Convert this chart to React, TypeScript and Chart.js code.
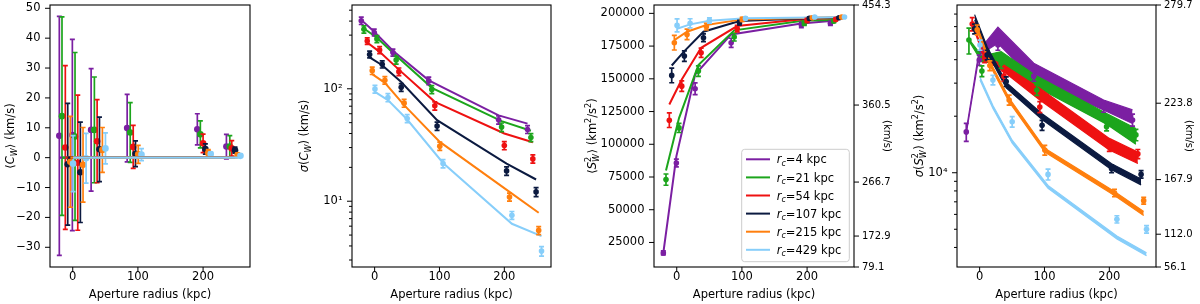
import React, { useEffect, useRef } from 'react';
import { Chart, registerables } from 'chart.js';

Chart.register(...registerables);

const FONT_FAMILY = "'DejaVu Sans', 'Liberation Sans', sans-serif";
const TICK_FONT_SIZE = 11.5;
const RIGHT_TICK_FONT_SIZE = 10;
const TITLE_FONT_SIZE = 11.5;
const RIGHT_TITLE_FONT_SIZE = 10;
const LEGEND_FONT_SIZE = 11.5;

const PAGE_W = 1200;
const PAGE_H = 304;
const PLOT_TOP = 5;
const PLOT_BOTTOM = 267;
const X_MIN = -34.9;
const X_MAX = 272;
const xTickValues = [0, 100, 200];
const xAxisTitle = 'Aperture radius (kpc)';

const coreRadii = ['4', '21', '54', '107', '215', '429'];
const seriesColors = ['#7b1fa2', '#1ca51c', '#ee1111', '#0b1a40', '#ff7f0e', '#87cefa'];

// aperture radius positions (each series slightly offset)
const xPurple = [-20.6, -0.6, 28.2, 83.5, 191.2, 235.8];
const xGreen = [-16.5, 3.5, 33.2, 88.2, 195.8, 241.0];
const xRed = [-11.4, 7.7, 37.4, 92.8, 200.0, 244.0];
const xNavy = [-7.7, 11.7, 41.0, 96.3, 203.5, 249.0];
const xOrange = [-3.7, 15.8, 45.5, 100.5, 208.0, 253.0];
const xLightBlue = [0.5, 20.5, 50.2, 105.5, 211.7, 257.4];
const xPositions = [xPurple, xGreen, xRed, xNavy, xOrange, xLightBlue];

// Panel 1: <C_W> (km/s)
const meanCwTicks = [-30, -20, -10, 0, 10, 20, 30, 40, 50];
const meanCwPoints = [
  [7.3, 7.6, 9.3, 9.9, 9.5, 3.7],
  [13.9, 7.1, 9.3, 8.4, 7.8, 3.7],
  [3.4, -1.7, 5.5, 3.6, 4.8, 3.1],
  [-2.2, -4.9, 2.8, 1.3, 2.9, 2.5],
  [-1.4, -2.4, 2.6, 1.1, 1.6, 0.9],
  [-2.0, -0.2, 3.1, 1.0, 1.2, 0.6],
];
const meanCwErrors = [
  [40.0, 32.0, 20.5, 11.3, 5.2, 4.1],
  [33.2, 28.1, 17.7, 10.0, 4.5, 3.7],
  [27.4, 22.6, 13.9, 7.2, 3.1, 2.6],
  [20.4, 16.8, 10.8, 4.3, 1.7, 1.0],
  [15.2, 12.5, 7.5, 3.0, 1.1, 0.6],
  [9.4, 8.3, 5.2, 2.0, 0.7, 0.4],
];
const meanCwModel = [0, 0, 0, 0, 0, 0];

// Panel 2: sigma(C_W) (km/s)
const sigmaCwTicks = [3, 4, 5, 6, 7, 8, 9, 10, 20, 30, 40, 50, 60, 70, 80, 90, 100, 200, 300, 400, 500];
const sigmaCwPoints = [
  [403, 317, 210, 118, 53, 43.5],
  [338, 277, 180, 98.7, 45.6, 36.9],
  [266, 221, 142, 70.6, 31.3, 23.8],
  [202, 165, 103, 46.6, 18.6, 12.1],
  [145, 119, 74.5, 30.9, 10.9, 5.5],
  [99.3, 83.7, 54.4, 21.6, 7.5, 3.6],
];
const sigmaCwErrors = [
  [30, 22, 15, 9, 4.5, 3.5],
  [25, 20, 14, 8, 4, 3],
  [18, 16, 11, 6, 2.6, 2],
  [14, 12, 8, 4, 1.6, 1.1],
  [11, 9, 6, 2.6, 0.9, 0.45],
  [8, 7, 4.5, 1.8, 0.6, 0.35],
];
const sigmaCwModel = [
  [410, 321, 218, 119, 58, 49],
  [344, 284, 197, 102, 51.5, 42.3],
  [258, 213, 148, 76.6, 40, 33.5],
  [190, 162, 115, 52.6, 21.6, 15.6],
  [135, 113, 71.6, 33.7, 12.1, 7.9],
  [94, 79.3, 53.3, 21.9, 6.3, 4.9],
];

// Panel 3: <S^2_W> (km^2/s^2)
const meanS2Ticks = [25000, 50000, 75000, 100000, 125000, 150000, 175000, 200000];
const meanS2RightLabels = ['79.1', '172.9', '266.7', '360.5', '454.3'];
const meanS2Points = [
  [17000, 85700, 142400, 177500, 191100, 192400],
  [73000, 112500, 155900, 181900, 192400, 194100],
  [118400, 144400, 169900, 188300, 194600, 195400],
  [152600, 167400, 181400, 192900, 196200, 196700],
  [177600, 183900, 189800, 195400, 196700, 197200],
  [190800, 192400, 194600, 196200, 197200, 197200],
];
const meanS2Errors = [
  [1500, 3000, 4500, 3500, 2000, 1500],
  [4300, 3500, 4000, 3000, 1500, 1200],
  [5600, 4000, 3500, 2500, 1500, 1000],
  [5600, 4000, 3000, 1800, 1000, 700],
  [5600, 4000, 2500, 1500, 800, 500],
  [5000, 3500, 2000, 1000, 500, 300],
];
const meanS2Model = [
  [17000, 90800, 153300, 183900, 192300, 194100],
  [80000, 120000, 160500, 187000, 194600, 194900],
  [130400, 149500, 173700, 190300, 195900, 196200],
  [160200, 171200, 186000, 194100, 196200, 196700],
  [179600, 186000, 191100, 195400, 196700, 197200],
  [188300, 191600, 194400, 196200, 196900, 197200],
];

// Panel 4: sigma(S^2_W) (km^2/s^2)
const sigmaS2Ticks = [4000, 5000, 6000, 7000, 8000, 9000, 10000, 20000, 30000, 40000, 50000, 60000, 70000];
const sigmaS2RightLabels = ['56.1', '112.0', '167.9', '223.8', '279.7'];
const sigmaS2Points = [
  [16500, 39800, 47900, 32700, 22500, 19100],
  [50900, 34800, 38300, 27600, 17600, 15900],
  [62000, 41000, 32700, 22400, 13700, 12600],
  [58400, 42400, 30600, 17900, 10500, 9800],
  [57700, 37200, 24400, 13200, 7800, 7100],
  [47900, 31200, 18700, 9800, 5650, 5000],
];
const sigmaS2Errors = [
  [1800, 2500, 3000, 2000, 1500, 1400],
  [8000, 2300, 2300, 1800, 900, 1100],
  [5000, 2400, 2000, 1500, 700, 700],
  [3500, 2500, 1800, 1100, 500, 450],
  [3500, 2200, 1500, 800, 350, 300],
  [3000, 1800, 1200, 650, 250, 230],
];
const sigmaS2ModelUpper = [
  [16800, 45100, 59600, 38300, 24400, 21600],
  [51500, 41800, 44200, 32700, 20700, 17200],
  [65000, 41400, 37500, 28200, 15240, 12900],
  [69500, 46700, 30300, 20600, 11150, 9270],
  [60400, 39200, 25000, 13500, 7950, 6220],
  [32400, 22800, 14900, 8560, 4600, 3750],
];
const sigmaS2ModelLower = [
  [16200, 42400, 48900, 31200, 21600, 18300],
  [50300, 38900, 38300, 28500, 18150, 14200],
  [62000, 39900, 34500, 24400, 13200, 11200],
  [65000, 43500, 28300, 19200, 10380, 8620],
  [57400, 37400, 23800, 12900, 7570, 5920],
  [31200, 22000, 14360, 8260, 4440, 3610],
];

type Seg = { t?: string; it?: boolean; sub?: boolean; sup?: boolean; stack?: [string, string] };

function segFont(size: number, it?: boolean) {
  return `${it ? 'italic ' : ''}${size}px ${FONT_FAMILY}`;
}

function measureRich(ctx: CanvasRenderingContext2D, segs: Seg[], size: number) {
  let w = 0;
  for (const s of segs) {
    if (s.stack) {
      ctx.font = segFont(size * 0.7, false);
      const a = ctx.measureText(s.stack[0]).width;
      ctx.font = segFont(size * 0.7, true);
      const b = ctx.measureText(s.stack[1]).width;
      w += Math.max(a, b) + size * 0.05;
    } else {
      ctx.font = segFont(s.sub || s.sup ? size * 0.7 : size, s.it);
      w += ctx.measureText(s.t || '').width;
    }
  }
  return w;
}

function drawRich(
  ctx: CanvasRenderingContext2D,
  segs: Seg[],
  cx: number,
  cy: number,
  size: number,
  rot: number,
  align: 'center' | 'left',
) {
  ctx.save();
  ctx.translate(cx, cy);
  if (rot) ctx.rotate(rot);
  const w = measureRich(ctx, segs, size);
  let x = align === 'center' ? -w / 2 : 0;
  const base = size * 0.36;
  ctx.fillStyle = '#000';
  ctx.textAlign = 'left';
  ctx.textBaseline = 'alphabetic';
  for (const s of segs) {
    if (s.stack) {
      ctx.font = segFont(size * 0.7, false);
      const a = ctx.measureText(s.stack[0]).width;
      ctx.fillText(s.stack[0], x, base - size * 0.42);
      ctx.font = segFont(size * 0.7, true);
      const b = ctx.measureText(s.stack[1]).width;
      ctx.fillText(s.stack[1], x, base + size * 0.25);
      x += Math.max(a, b) + size * 0.05;
    } else {
      const small = s.sub || s.sup;
      ctx.font = segFont(small ? size * 0.7 : size, s.it);
      const dy = s.sub ? size * 0.22 : s.sup ? -size * 0.42 : 0;
      ctx.fillText(s.t || '', x, base + dy);
      x += ctx.measureText(s.t || '').width;
    }
  }
  ctx.restore();
}

const ERR_CAP = 2.5;

const decorPlugin: any = {
  id: 'decor',
  beforeDatasetDraw(chart: any, args: any) {
    const ds: any = chart.data.datasets[args.index];
    if (!ds.errs) return;
    const ctx = chart.ctx as CanvasRenderingContext2D;
    const xs = chart.scales.x;
    const ys = chart.scales.y;
    const a = chart.chartArea;
    ctx.save();
    ctx.beginPath();
    ctx.rect(a.left, a.top, a.right - a.left, a.bottom - a.top);
    ctx.clip();
    ctx.strokeStyle = ds.backgroundColor;
    ctx.lineWidth = 1.7;
    ds.data.forEach((p: any, i: number) => {
      const e = ds.errs[i];
      const px = xs.getPixelForValue(p.x);
      const y1 = ys.getPixelForValue(p.y - e);
      const y2 = ys.getPixelForValue(p.y + e);
      ctx.beginPath();
      ctx.moveTo(px, y1);
      ctx.lineTo(px, y2);
      ctx.moveTo(px - ERR_CAP, y1);
      ctx.lineTo(px + ERR_CAP, y1);
      ctx.moveTo(px - ERR_CAP, y2);
      ctx.lineTo(px + ERR_CAP, y2);
      ctx.stroke();
    });
    ctx.restore();
  },
  afterDraw(chart: any, _args: any, opts: any) {
    const ctx = chart.ctx as CanvasRenderingContext2D;
    const a = chart.chartArea;
    ctx.save();
    ctx.strokeStyle = '#000';
    ctx.lineWidth = 1.1;
    ctx.strokeRect(a.left, a.top, a.right - a.left, a.bottom - a.top);
    // tick marks
    ctx.lineWidth = 1;
    for (const id of Object.keys(chart.scales)) {
      const s = chart.scales[id];
      for (const t of s.ticks) {
        const major = t.label !== '' && t.label != null;
        const len = major ? 5 : 3;
        const p = s.getPixelForValue(t.value);
        ctx.beginPath();
        if (s.isHorizontal()) {
          ctx.moveTo(p, a.bottom);
          ctx.lineTo(p, a.bottom + len);
        } else if (s.position === 'left') {
          ctx.moveTo(a.left - len, p);
          ctx.lineTo(a.left, p);
        } else {
          ctx.moveTo(a.right, p);
          ctx.lineTo(a.right + len, p);
        }
        ctx.stroke();
      }
    }
    ctx.restore();
    // axis titles
    drawRich(ctx, [{ t: xAxisTitle }], (a.left + a.right) / 2, 294, TITLE_FONT_SIZE, 0, 'center');
    const midY = (a.top + a.bottom) / 2;
    drawRich(ctx, opts.yTitle, opts.yTitleX, midY, TITLE_FONT_SIZE, -Math.PI / 2, 'center');
    if (opts.rightTitle) {
      drawRich(ctx, opts.rightTitle, opts.rightTitleX, midY, RIGHT_TITLE_FONT_SIZE, Math.PI / 2, 'center');
    }
    // legend
    if (opts.legend) {
      const L = opts.legend;
      ctx.save();
      const [x1, y1, x2, y2] = L.box;
      const r = 3;
      ctx.beginPath();
      ctx.moveTo(x1 + r, y1);
      ctx.lineTo(x2 - r, y1);
      ctx.quadraticCurveTo(x2, y1, x2, y1 + r);
      ctx.lineTo(x2, y2 - r);
      ctx.quadraticCurveTo(x2, y2, x2 - r, y2);
      ctx.lineTo(x1 + r, y2);
      ctx.quadraticCurveTo(x1, y2, x1, y2 - r);
      ctx.lineTo(x1, y1 + r);
      ctx.quadraticCurveTo(x1, y1, x1 + r, y1);
      ctx.closePath();
      ctx.fillStyle = 'rgba(255,255,255,0.8)';
      ctx.fill();
      ctx.strokeStyle = '#cccccc';
      ctx.lineWidth = 1;
      ctx.stroke();
      L.entries.forEach((en: any, i: number) => {
        const y = L.y0 + i * L.dy;
        ctx.strokeStyle = en.color;
        ctx.lineWidth = 2;
        ctx.beginPath();
        ctx.moveTo(L.lineX1, y);
        ctx.lineTo(L.lineX2, y);
        ctx.stroke();
        drawRich(ctx, en.segs, L.textX, y, LEGEND_FONT_SIZE, 0, 'left');
      });
      ctx.restore();
    }
  },
};

type PanelSpec = {
  key: string;
  left: number;
  width: number;
  leftAxisW: number;
  rightPad: number;
  rightAxisW?: number;
  yType: 'linear' | 'logarithmic';
  yMin: number;
  yMax: number;
  yTicks: number[];
  yLabel: (v: number) => string;
  right?: { values: number[]; labels: string[] };
  datasets: any[];
  yTitle: Seg[];
  yTitleX: number;
  rightTitle?: Seg[];
  rightTitleX?: number;
  legend?: any;
};

function pts(xs: number[], ys: number[]) {
  return xs.map((x, i) => ({ x, y: ys[i] }));
}

function pointDataset(k: number, ys: number[], errs: number[], order: number, radius = 3) {
  return {
    type: 'scatter',
    data: pts(xPositions[k], ys),
    errs,
    backgroundColor: seriesColors[k],
    borderColor: seriesColors[k],
    pointBackgroundColor: seriesColors[k],
    pointBorderWidth: 0,
    pointRadius: radius,
    showLine: false,
    order,
  };
}

function lineDataset(k: number, ys: number[], order: number, width = 2, extra: any = {}) {
  return {
    type: 'line',
    data: pts(xPositions[k], ys),
    borderColor: seriesColors[k],
    backgroundColor: seriesColors[k],
    borderWidth: width,
    pointRadius: 0,
    tension: 0,
    fill: false,
    order,
    ...extra,
  };
}

const panel1Datasets: any[] = [];
for (let k = 0; k < 6; k++) {
  panel1Datasets.push(pointDataset(k, meanCwPoints[k], meanCwErrors[k], 10 + (5 - k), 3.3));
  panel1Datasets.push(lineDataset(k, meanCwModel, 5 - k, 2.4));
}
const panel2Datasets: any[] = [];
for (let k = 0; k < 6; k++) {
  panel2Datasets.push(pointDataset(k, sigmaCwPoints[k], sigmaCwErrors[k], 5 - k, 2.8));
  panel2Datasets.push(lineDataset(k, sigmaCwModel[k], 10 + (5 - k), 2));
}
const panel3Datasets: any[] = [];
for (let k = 0; k < 6; k++) {
  panel3Datasets.push(pointDataset(k, meanS2Points[k], meanS2Errors[k], 5 - k, 2.8));
  panel3Datasets.push(lineDataset(k, meanS2Model[k], 10 + (5 - k), 2));
}
const panel4Datasets: any[] = [];
for (let k = 0; k < 6; k++) {
  const upperIndex = panel4Datasets.length;
  panel4Datasets.push(lineDataset(k, sigmaS2ModelUpper[k], 20 + (5 - k), 1.2));
  panel4Datasets.push(lineDataset(k, sigmaS2ModelLower[k], 20 + (5 - k), 1.2, { fill: upperIndex }));
}
for (let k = 0; k < 6; k++) {
  panel4Datasets.push(pointDataset(k, sigmaS2Points[k], sigmaS2Errors[k], 5 - k, 2.8));
}

const legendEntries = coreRadii.map((r, k) => ({
  color: seriesColors[k],
  segs: [{ t: 'r', it: true }, { t: 'c', it: true, sub: true }, { t: `=${r} kpc` }] as Seg[],
}));

const panels: PanelSpec[] = [
  {
    key: 'p1',
    left: 0,
    width: 300,
    leftAxisW: 50,
    rightPad: 50,
    yType: 'linear',
    yMin: -36.6,
    yMax: 51.1,
    yTicks: meanCwTicks,
    yLabel: (v) => (v < 0 ? '\u2212' + String(-v) : String(v)),
    datasets: panel1Datasets,
    yTitle: [{ t: '\u27e8' }, { t: 'C', it: true }, { t: 'W', it: true, sub: true }, { t: '\u27e9 (km/s)' }],
    yTitleX: 10,
  },
  {
    key: 'p2',
    left: 290,
    width: 300,
    leftAxisW: 62,
    rightPad: 39,
    yType: 'logarithmic',
    yMin: 2.6,
    yMax: 556,
    yTicks: sigmaCwTicks,
    yLabel: (v) => (v === 10 ? '10\u00b9' : v === 100 ? '10\u00b2' : ''),
    datasets: panel2Datasets,
    yTitle: [
      { t: '\u03c3', it: true },
      { t: '(' },
      { t: 'C', it: true },
      { t: 'W', it: true, sub: true },
      { t: ') (km/s)' },
    ],
    yTitleX: 14,
  },
  {
    key: 'p3',
    left: 580,
    width: 320,
    leftAxisW: 74,
    rightPad: 0,
    rightAxisW: 46,
    yType: 'linear',
    yMin: 6256.81,
    yMax: 206388.49,
    yTicks: meanS2Ticks,
    yLabel: (v) => String(v),
    right: { values: meanS2RightLabels.map((s) => Number(s) * Number(s)), labels: meanS2RightLabels },
    datasets: panel3Datasets,
    yTitle: [
      { t: '\u27e8' },
      { t: 'S', it: true },
      { stack: ['2', 'W'] },
      { t: '\u27e9 (km' },
      { t: '2', sup: true },
      { t: '/s' },
      { t: '2', sup: true },
      { t: ')' },
    ],
    yTitleX: 12,
    rightTitle: [{ t: '(km/s)' }],
    rightTitleX: 308,
    legend: {
      box: [161.7, 149.3, 269.3, 261.7],
      entries: legendEntries,
      y0: 159.3,
      dy: 18.1,
      lineX1: 166,
      lineX2: 190,
      textX: 196.7,
    },
  },
  {
    key: 'p4',
    left: 900,
    width: 300,
    leftAxisW: 57,
    rightPad: 0,
    rightAxisW: 44,
    yType: 'logarithmic',
    yMin: 3147.21,
    yMax: 78232.09,
    yTicks: sigmaS2Ticks,
    yLabel: (v) => (v === 10000 ? '10\u2074' : ''),
    right: { values: sigmaS2RightLabels.map((s) => Number(s) * Number(s)), labels: sigmaS2RightLabels },
    datasets: panel4Datasets,
    yTitle: [
      { t: '\u03c3', it: true },
      { t: '(' },
      { t: 'S', it: true },
      { stack: ['2', 'W'] },
      { t: ') (km' },
      { t: '2', sup: true },
      { t: '/s' },
      { t: '2', sup: true },
      { t: ')' },
    ],
    yTitleX: 18.5,
    rightTitle: [{ t: '(km/s)' }],
    rightTitleX: 289.5,
  },
];

function buildConfig(spec: PanelSpec): any {
  const tickFont = { family: FONT_FAMILY, size: TICK_FONT_SIZE };
  const grid = {
    display: true,
    drawOnChartArea: false,
    drawTicks: true,
    tickLength: 5,
    tickColor: 'rgba(0,0,0,0)',
  };
  const zero = (s: any) => {
    s.paddingLeft = 0;
    s.paddingRight = 0;
    s.paddingTop = 0;
    s.paddingBottom = 0;
  };
  const scales: any = {
    x: {
      type: 'linear',
      position: 'bottom',
      min: X_MIN,
      max: X_MAX,
      bounds: 'data',
      afterBuildTicks: (s: any) => {
        s.ticks = xTickValues.map((v) => ({ value: v }));
      },
      ticks: {
        font: tickFont,
        color: '#000',
        padding: -2,
        maxRotation: 0,
        minRotation: 0,
        autoSkip: false,
        callback: (v: number) => String(v),
      },
      grid,
      border: { display: false },
      afterFit: (s: any) => {
        s.height = PAGE_H - PLOT_BOTTOM;
        zero(s);
      },
    },
    y: {
      type: spec.yType,
      position: 'left',
      min: spec.yMin,
      max: spec.yMax,
      bounds: 'data',
      afterBuildTicks: (s: any) => {
        s.ticks = spec.yTicks.map((v) => ({ value: v }));
      },
      ticks: {
        font: tickFont,
        color: '#000',
        padding: 4.5,
        autoSkip: false,
        callback: (v: number) => spec.yLabel(v),
      },
      grid,
      border: { display: false },
      afterFit: (s: any) => {
        s.width = spec.leftAxisW;
        zero(s);
      },
    },
  };
  if (spec.right) {
    const right = spec.right;
    scales.y2 = {
      type: 'linear',
      position: 'right',
      min: spec.yMin,
      max: spec.yMax,
      bounds: 'data',
      afterBuildTicks: (s: any) => {
        s.ticks = right.values.map((v) => ({ value: v }));
      },
      ticks: {
        font: { family: FONT_FAMILY, size: RIGHT_TICK_FONT_SIZE },
        color: '#000',
        padding: 3,
        autoSkip: false,
        callback: (_v: number, i: number) => right.labels[i],
      },
      grid,
      border: { display: false },
      afterFit: (s: any) => {
        s.width = spec.rightAxisW || 44;
        zero(s);
      },
    };
  }
  return {
    type: 'scatter',
    data: { datasets: spec.datasets },
    options: {
      responsive: false,
      animation: false,
      devicePixelRatio: 1,
      events: [],
      layout: { padding: { top: PLOT_TOP, left: 0, right: spec.rightPad, bottom: 0 } },
      scales,
      plugins: {
        legend: { display: false },
        tooltip: { enabled: false },
        decor: {
          yTitle: spec.yTitle,
          yTitleX: spec.yTitleX,
          rightTitle: spec.rightTitle,
          rightTitleX: spec.rightTitleX,
          legend: spec.legend,
        },
      },
    },
    plugins: [decorPlugin],
  };
}

function Panel({ spec }: { spec: PanelSpec }) {
  const ref = useRef<HTMLCanvasElement>(null);
  useEffect(() => {
    const chart = new Chart(ref.current as HTMLCanvasElement, buildConfig(spec));
    return () => chart.destroy();
  }, [spec]);
  return (
    <canvas
      ref={ref}
      width={spec.width}
      height={PAGE_H}
      style={{ position: 'absolute', left: spec.left, top: 0, width: spec.width, height: PAGE_H, display: 'block' }}
    />
  );
}

export default function App() {
  useEffect(() => {
    document.body.style.margin = '0';
  }, []);
  return (
    <div style={{ position: 'relative', width: PAGE_W, height: PAGE_H, background: '#fff', overflow: 'hidden' }}>
      {panels.map((p) => (
        <Panel key={p.key} spec={p} />
      ))}
    </div>
  );
}
